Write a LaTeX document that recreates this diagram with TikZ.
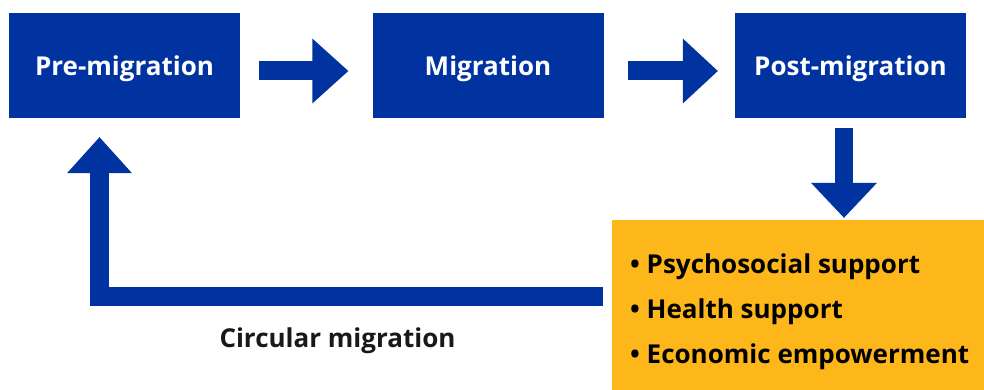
\documentclass[tikz,border=0pt]{standalone}
\usepackage{fontspec}
\setmainfont{Open Sans}
\usetikzlibrary{calc}
\definecolor{iomblue}{HTML}{0033A0}
\definecolor{iomorange}{HTML}{FDB71A}
\begin{document}
\begin{tikzpicture}[x=1pt,y=-1pt,
  stage/.style={fill=iomblue, text=white, minimum width=231pt, minimum height=105pt, inner sep=0pt,
    text height=21pt, text depth=0pt,
    font=\bfseries\fontsize{26}{30}\selectfont},
  shaft/.style={draw=iomblue, line width=19pt, line join=miter},
  head/.style={fill=iomblue},
  item/.style={anchor=base west, inner sep=0pt, text=black, font=\bfseries\fontsize{26}{30}\selectfont},
  lbl/.style={anchor=base, inner sep=0pt, text=black!90, font=\bfseries\fontsize{26}{30}\selectfont}]
\useasboundingbox (0,0) rectangle (984,390);
% stages
\node[stage] (pre)  at (124.5,65.5) {Pre-migration};
\node[stage] (mig)  at (488,65.5)   {Migration};
\node[stage] (post) at (850.5,65.5) {Post-migration};
% support box
\node[fill=iomorange, minimum width=372pt, minimum height=170pt, inner sep=0pt] (sup) at (798,305) {};
\node[item] (i1) at (630,273) {• Psychosocial support};
\node[item] (i2) at (630,318) {• Health support};
\node[item] (i3) at (630,363) {• Economic empowerment};
% arrow pre -> mig
\coordinate (a1s) at ($(pre.east)+(19,5.5)$);
\coordinate (a1t) at ($(mig.west)+(-24,5.5)$);
\draw[shaft] (a1s) -- ($(a1t)+(-35,0)$);
\fill[head] (a1t) -- ($(a1t)+(-36,-32.5)$) -- ($(a1t)+(-36,32.5)$) -- cycle;
% arrow mig -> post
\coordinate (a2s) at ($(mig.east)+(24,5.5)$);
\coordinate (a2t) at ($(post.west)+(-17,5.5)$);
\draw[shaft] (a2s) -- ($(a2t)+(-34,0)$);
\fill[head] (a2t) -- ($(a2t)+(-35,-32.5)$) -- ($(a2t)+(-35,32.5)$) -- cycle;
% arrow post -> support
\coordinate (a3s) at ($(post.south)+(-6.5,10)$);
\coordinate (a3t) at ($(sup.north)+(46,-2)$);
\draw[shaft, line width=18pt] (a3s) -- ($(a3t)+(0,-34)$);
\fill[head] (a3t) -- ($(a3t)+(-33,-35)$) -- ($(a3t)+(33,-35)$) -- cycle;
% circular arrow support -> pre
\coordinate (a4s) at ($(sup.west)+(-9,-9)$);
\coordinate (a4t) at ($(pre.south)+(-25,19)$);
\draw[shaft] (a4s) -| ($(a4t)+(0,35)$);
\fill[head] (a4t) -- ($(a4t)+(-32.5,36)$) -- ($(a4t)+(32.5,36)$) -- cycle;
\node[lbl] (circ) at (337.5,347) {Circular migration};
\end{tikzpicture}
\end{document}
